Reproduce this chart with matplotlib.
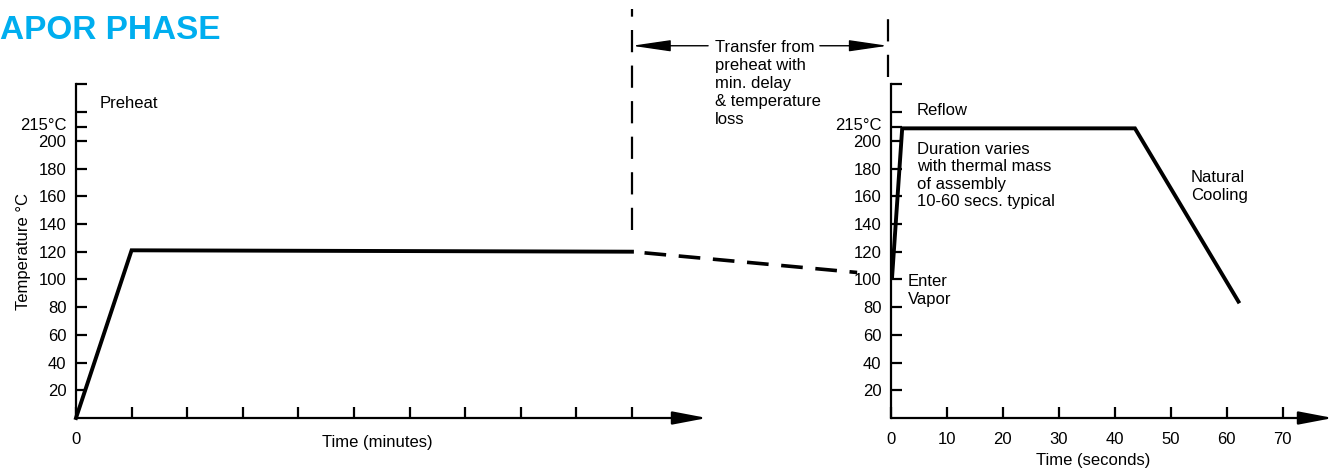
import matplotlib.pyplot as plt
import numpy as np

plt.rcParams['font.family'] = ['Liberation Sans', 'DejaVu Sans']
plt.rcParams['font.size'] = 12

# preheat profile (minutes, degC)
preheat_t = [0, 1, 10]
preheat_T = [0, 121, 120]
# transfer loss (dashed), minutes on the preheat scale
transfer_t = [10, 14.05]
transfer_T = [120, 105]
# reflow profile (seconds, degC)
reflow_t = [0.2, 2, 43.6, 62.1]
reflow_T = [102, 209, 209, 84]

temp_ticks = [20, 40, 60, 80, 100, 120, 140, 160, 180, 200]
temp_labels = [str(v) for v in temp_ticks]
peak_label = '215°C'
peak_pos = 212
extra_ticks = [210, 221, 241]
min_ticks = list(range(0, 11))
sec_ticks = [0, 10, 20, 30, 40, 50, 60, 70]

W, H = 1330, 468
fig = plt.figure(figsize=(13.3, 4.68), dpi=100)

def px(x0, y0, x1, y1):
    return [x0 / W, 1 - y1 / H, (x1 - x0) / W, (y1 - y0) / H]

ax1 = fig.add_axes(px(76, 84, 707, 418))
ax2 = fig.add_axes(px(891, 84, 1333, 418))

def style(ax, xmax):
    ax.set_ylim(0, 241)
    ax.set_xlim(0, xmax)
    for s in ['top', 'right', 'bottom']:
        ax.spines[s].set_visible(False)
    ax.spines['left'].set_linewidth(1.6)
    ax.set_yticks(temp_ticks + [peak_pos], temp_labels + [peak_label])
    ax.yaxis.get_major_ticks()[-1].tick1line.set_visible(False)
    ax.set_yticks(extra_ticks, minor=True)
    ax.tick_params(axis='y', which='both', direction='in', length=8, width=1.6, pad=7)
    ax.tick_params(axis='x', direction='in', length=8, width=1.6, pad=10)
    ax.patch.set_visible(False)
    ax.annotate('', xy=(xmax, 0), xytext=(0, 0), xycoords='data',
                arrowprops=dict(arrowstyle='-|>,head_length=2.1,head_width=0.4',
                                lw=1.6, color='black', shrinkA=0, shrinkB=0,
                                mutation_scale=10), annotation_clip=False)

style(ax1, 11.35)
style(ax2, 79)

ax1.set_ylabel('Temperature °C', labelpad=-8)
ax1.set_xticks(min_ticks, ['0'] + [''] * (len(min_ticks) - 1))
ax2.set_xticks(sec_ticks, [str(v) for v in sec_ticks])

ax1.text(0.477, -0.072, 'Time (minutes)', transform=ax1.transAxes, ha='center', va='center')
ax2.text(0.457, -0.126, 'Time (seconds)', transform=ax2.transAxes, ha='center', va='center')

ax1.plot(preheat_t, preheat_T, color='black', lw=2.8, solid_joinstyle='miter', clip_on=False)
ax1.plot(transfer_t, transfer_T, color='black', lw=2.6, linestyle=(6, (6, 3.5)), clip_on=False)
ax2.plot(reflow_t, reflow_T, color='black', lw=2.8, solid_joinstyle='miter', clip_on=False)

# transfer markers
ax1.plot([10, 10], [136, 295], color='black', lw=1.6, linestyle=(0, (10, 6)), clip_on=False)
ax1.plot([14.6, 14.6], [246, 295], color='black', lw=1.6, linestyle=(0, (10, 6)), clip_on=False)
arr = dict(arrowstyle='-|>,head_length=2.4,head_width=0.35', lw=1, color='black',
           shrinkA=0, shrinkB=0, mutation_scale=10)
ax1.annotate('', xy=(10, 268.6), xytext=(11.37, 268.6), arrowprops=arr, annotation_clip=False)
ax1.annotate('', xy=(14.6, 268.6), xytext=(13.38, 268.6), arrowprops=arr, annotation_clip=False)
ax1.text(11.49, 272.5, 'Transfer from\npreheat with\nmin. delay\n& temperature\nloss',
         ha='left', va='top', linespacing=1.25)

ax1.text(0.43, 227, 'Preheat', ha='left', va='center')
ax2.text(4.5, 222, 'Reflow', ha='left', va='center')
ax2.text(4.6, 199.5, 'Duration varies\nwith thermal mass\nof assembly\n10-60 secs. typical',
         ha='left', va='top', linespacing=1.22)
ax2.text(53.6, 167, 'Natural\nCooling', ha='left', va='center', linespacing=1.22)
ax2.text(3.0, 92, 'Enter\nVapor', ha='left', va='center', linespacing=1.22)

fig.text(0, 1 - 39 / H, 'APOR PHASE', color='#00AEEF', fontsize=24,
         fontweight='bold', ha='left', va='baseline')

fig.savefig('out.png', dpi=100)
